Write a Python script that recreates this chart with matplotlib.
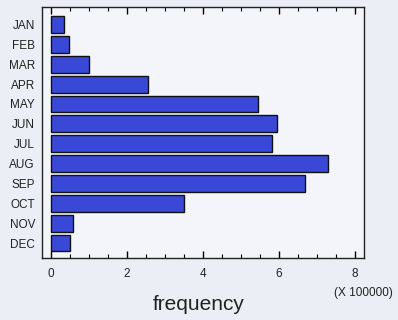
import matplotlib
matplotlib.use("Agg")
import matplotlib.pyplot as plt
from matplotlib.ticker import MultipleLocator

months = ["JAN", "FEB", "MAR", "APR", "MAY", "JUN",
          "JUL", "AUG", "SEP", "OCT", "NOV", "DEC"]
freq = [0.34, 0.47, 1.0, 2.55, 5.45, 5.95,
        5.82, 7.28, 6.68, 3.5, 0.58, 0.5]  # x 100000

plt.rcParams["font.family"] = ["Liberation Sans", "DejaVu Sans"]

fig = plt.figure(figsize=(3.98, 3.2), dpi=100, facecolor="#eceef5")
ax = fig.add_axes([0.1055, 0.194, 0.809, 0.784])
ax.set_facecolor("#f4f5fa")

pos = list(range(len(months)))
ax.barh(pos, freq, height=0.85, color="#3a48d8", edgecolor="#111111", linewidth=1.0)

ax.set_xlim(-0.24, 8.24)
ax.set_ylim(11.75, -0.88)
ax.set_yticks(pos)
ax.set_yticklabels(months, fontsize=8.5, color="#222222")
ax.tick_params(axis="y", length=0, pad=5)

ax.xaxis.set_major_locator(MultipleLocator(2))
ax.xaxis.set_minor_locator(MultipleLocator(0.5))
ax.tick_params(axis="x", which="both", direction="in", top=True, labelsize=8.5,
               labelcolor="#222222", pad=7)
ax.tick_params(axis="x", which="major", length=5, width=1)
ax.tick_params(axis="x", which="minor", length=3, width=0.8)

for s in ax.spines.values():
    s.set_color("#222222")
    s.set_linewidth(1.0)

fig.text(363 / 398, 1 - 293 / 320, "(X 100000)", fontsize=8.5, ha="center",
         va="center", color="#222222")
fig.text(199 / 398, 1 - 304 / 320, "frequency", fontsize=15, ha="center",
         va="center", color="#222222")

fig.savefig("out.png", dpi=100, facecolor=fig.get_facecolor())
